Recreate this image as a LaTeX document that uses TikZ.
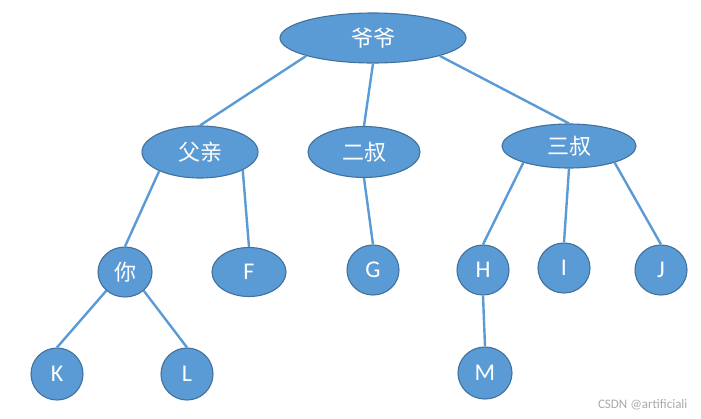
\documentclass[tikz,border=0pt]{standalone}
\usepackage{fontspec}
\setmainfont{Carlito}
\newfontfamily\cjk{Noto Sans CJK SC}
\usetikzlibrary{shapes.geometric}
\definecolor{nodefill}{RGB}{91,155,213}
\definecolor{nodeborder}{RGB}{65,113,156}
\definecolor{linkcol}{RGB}{91,155,213}
\definecolor{wmark}{RGB}{170,170,170}
\begin{document}
\begin{tikzpicture}[x=1pt,y=-1pt,
  tnode/.style={ellipse, draw=nodeborder, line width=1.1pt, fill=nodefill,
    text=white, inner sep=0pt, font=\fontsize{24}{26}\selectfont},
  cnode/.style={tnode, font=\cjk\fontsize{22}{26}\selectfont},
  link/.style={draw=linkcol, line width=2.4pt}]
\useasboundingbox (0,0) rectangle (701,418);
\fill[white] (0,0) rectangle (701,418);

\node[cnode, minimum width=186pt, minimum height=50pt] (yy) at (373,38) {爷爷};
\node[cnode, minimum width=116pt, minimum height=52pt] (fq) at (200,152) {父亲};
\node[cnode, minimum width=112pt, minimum height=51pt] (es) at (364,152) {二叔};
\node[cnode, minimum width=134pt, minimum height=44pt] (ss) at (569,146) {三叔};
\node[cnode, minimum width=54pt, minimum height=50pt] (ni) at (125,272) {你};
\node[tnode, minimum width=74pt, minimum height=49pt] (f) at (249,272) {F};
\node[tnode, minimum width=52pt, minimum height=50pt] (g) at (373,270) {G};
\node[tnode, minimum width=52pt, minimum height=50pt] (h) at (483,270) {H};
\node[tnode, minimum width=52pt, minimum height=50pt] (i) at (564,268) {I};
\node[tnode, minimum width=52pt, minimum height=50pt] (j) at (661,270) {J};
\node[tnode, minimum width=54pt, minimum height=52pt] (m) at (485,373) {M};
\node[tnode, minimum width=52pt, minimum height=52pt] (k) at (57,374) {K};
\node[tnode, minimum width=52pt, minimum height=52pt] (l) at (187,374) {L};

\draw[link] (yy.195) -- (fq.north);
\draw[link] (yy.south) -- (es.north);
\draw[link] (yy.345) -- (ss.north);
\draw[link] (fq.205) -- (ni.north);
\draw[link] (fq.337) -- (f.north);
\draw[link] (es.south) -- (g.north);
\draw[link] (ss.200) -- (h.north);
\draw[link] (ss.south) -- (i.north);
\draw[link] (ss.340) -- (j.north);
\draw[link] (ni.225) -- (k.north);
\draw[link] (ni.315) -- (l.north);
\draw[link] (h.south) -- (m.north);

\node[text=wmark, font=\fontsize{13}{14}\selectfont, anchor=east] (wm) at (691,405) {CSDN @artificiali};
\end{tikzpicture}
\end{document}
